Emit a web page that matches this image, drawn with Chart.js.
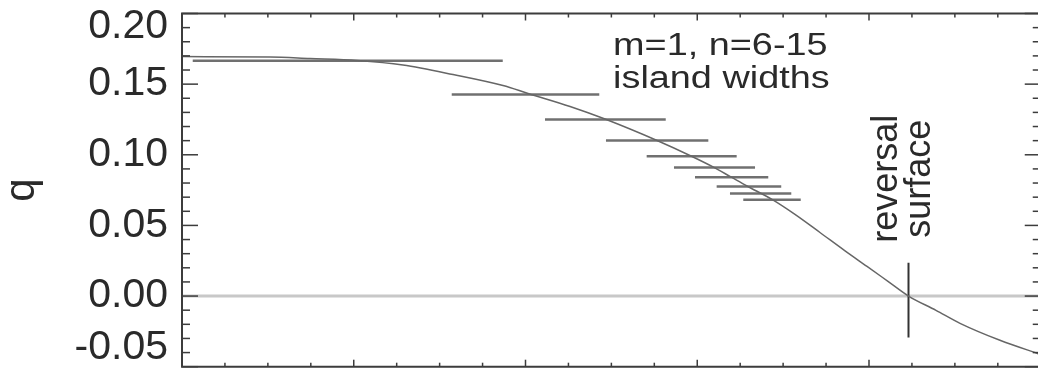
<!DOCTYPE html>
<html>
<head>
<meta charset="utf-8">
<script src="https://cdn.jsdelivr.net/npm/chart.js@4.4.1/dist/chart.umd.min.js"></script>
<style>
  html, body { margin: 0; padding: 0; background: #fff; }
  #wrap { width: 1038px; height: 369px; }
</style>
</head>
<body>
<div id="wrap"><canvas id="qChart"></canvas></div>
<script>
// q profile (x = normalised radius)
const curveX = [0.000, 0.1025, 0.1491, 0.2038, 0.2573, 0.3156, 0.3738, 0.4030, 0.4519, 0.4926,
  0.5532, 0.5939, 0.6184, 0.6381, 0.6579, 0.6870, 0.7138, 0.7429, 0.7721, 0.7977,
  0.8221, 0.8460, 0.8780, 0.9060, 0.9525, 1.0000];
const curveQ = [0.1695, 0.1692, 0.1681, 0.1667, 0.1635, 0.1568, 0.1490, 0.1434, 0.1342, 0.1253,
  0.1101, 0.0988, 0.0914, 0.0847, 0.0779, 0.0684, 0.0578, 0.0450, 0.0320, 0.0210,
  0.0104, 0.0000, -0.0101, -0.0193, -0.0313, -0.0414];

// m=1, n=6..15 island widths
const islandN = [6, 7, 8, 9, 10, 11, 12, 13, 14, 15];
const islandQ = [0.1666, 0.1426, 0.1249, 0.1101, 0.0990, 0.0910, 0.0841, 0.0776, 0.0726, 0.0682];
const islandLeft = [0.0125, 0.3141, 0.4227, 0.4937, 0.5411, 0.5729, 0.5974, 0.6226, 0.6381, 0.6536];
const islandRight = [0.3735, 0.4859, 0.5633, 0.6129, 0.6459, 0.6673, 0.6827, 0.6978, 0.7095, 0.7205];

// reversal surface marker
const reversalX = 0.846;
const reversalTop = 0.0236;
const reversalBottom = -0.0294;

const yTickValues = [0.20, 0.15, 0.10, 0.05, 0.00, -0.05];
const yTickLabels = ['0.20', '0.15', '0.10', '0.05', '0.00', '-0.05'];

const FONT = '"Liberation Sans", Arial, Helvetica, sans-serif';
const INK = '#2a2a2a';

// frame, minor/major ticks on all four sides, y labels and annotations
const framePlugin = {
  id: 'frameTicks',
  afterDraw(chart) {
    const { ctx, chartArea: a, scales: { x, y } } = chart;
    const xr = x.getPixelForValue(1);
    const seg = (x1, y1, x2, y2) => { ctx.beginPath(); ctx.moveTo(x1, y1); ctx.lineTo(x2, y2); ctx.stroke(); };
    ctx.save();
    ctx.strokeStyle = '#3c3c3c';

    ctx.lineWidth = 1.5;
    for (let i = 0; i <= 25; i++) {
      const py = y.getPixelForValue(-0.05 + i * 0.01);
      const len = i % 5 === 0 ? 16 : 8;
      seg(a.left, py, a.left + len, py);
      seg(xr, py, xr - len, py);
    }
    for (let i = 0; i <= 20; i++) {
      const px = x.getPixelForValue(i * 0.05);
      const len = i % 4 === 0 ? 7 : 4;
      seg(px, a.top, px, a.top + len);
      seg(px, a.bottom, px, a.bottom - len);
    }

    ctx.lineWidth = 2;
    ctx.beginPath();
    ctx.moveTo(xr, a.top);
    ctx.lineTo(a.left, a.top);
    ctx.lineTo(a.left, a.bottom);
    ctx.lineTo(xr, a.bottom);
    ctx.stroke();

    // y tick labels (end ones pulled inside the canvas like the original)
    ctx.fillStyle = INK;
    ctx.font = '41px ' + FONT;
    ctx.textAlign = 'right';
    ctx.textBaseline = 'middle';
    yTickValues.forEach((v, i) => {
      const py = Math.min(Math.max(y.getPixelForValue(v), 27), 348);
      ctx.fillText(yTickLabels[i], a.left - 14, py);
    });

    // legend-ish annotation
    ctx.textAlign = 'left';
    ctx.textBaseline = 'alphabetic';
    ctx.font = '31px ' + FONT;
    const ax = x.getPixelForValue(0.502);
    [['m=1, n=6-15', 0.1709], ['island widths', 0.1474]].forEach(([t, q]) => {
      ctx.save();
      ctx.translate(ax, y.getPixelForValue(q));
      ctx.scale(1.22, 1);
      ctx.fillText(t, 0, 0);
      ctx.restore();
    });

    // rotated label
    ctx.font = '36px ' + FONT;
    ctx.textAlign = 'center';
    [['reversal', 0.8326], ['surface', 0.871]].forEach(([t, xv]) => {
      ctx.save();
      ctx.translate(x.getPixelForValue(xv), y.getPixelForValue(0.0831));
      ctx.rotate(-Math.PI / 2);
      ctx.fillText(t, 0, 0);
      ctx.restore();
    });
    ctx.restore();
  }
};

const datasets = [];
datasets.push({
  label: 'q',
  data: curveX.map((v, i) => ({ x: v, y: curveQ[i] })),
  borderColor: '#666',
  borderWidth: 1.5,
  cubicInterpolationMode: 'monotone',
  pointRadius: 0
});
islandN.forEach((n, i) => {
  datasets.push({
    label: 'n=' + n,
    data: [{ x: islandLeft[i], y: islandQ[i] }, { x: islandRight[i], y: islandQ[i] }],
    borderColor: '#707070',
    borderWidth: 2.5,
    pointRadius: 0
  });
});
datasets.push({
  label: 'reversal',
  data: [{ x: reversalX, y: reversalTop }, { x: reversalX, y: reversalBottom }],
  borderColor: '#333',
  borderWidth: 2,
  pointRadius: 0
});
datasets.push({
  label: 'zero',
  data: [{ x: 0, y: 0 }, { x: 1, y: 0 }],
  borderColor: '#c8c8c8',
  borderWidth: 3,
  pointRadius: 0
});

new Chart(document.getElementById('qChart'), {
  type: 'scatter',
  data: { datasets: datasets.map(d => Object.assign({ showLine: true }, d)) },
  options: {
    responsive: true,
    maintainAspectRatio: false,
    animation: false,
    events: [],
    layout: { padding: { top: 13.5, bottom: 2.3, left: 0, right: 0 } },
    plugins: { legend: { display: false }, tooltip: { enabled: false } },
    scales: {
      x: { type: 'linear', display: false, min: 0, max: 0.9968 },
      y: {
        type: 'linear',
        min: -0.05,
        max: 0.20,
        grid: { display: false },
        border: { display: false },
        ticks: { display: false },
        title: {
          display: true,
          text: 'q',
          color: INK,
          font: { family: FONT, size: 42, lineHeight: 1 },
          padding: { top: 1, bottom: 0 }
        },
        afterFit(scale) { scale.width = 182; }
      }
    }
  },
  plugins: [framePlugin]
});
</script>
</body>
</html>
